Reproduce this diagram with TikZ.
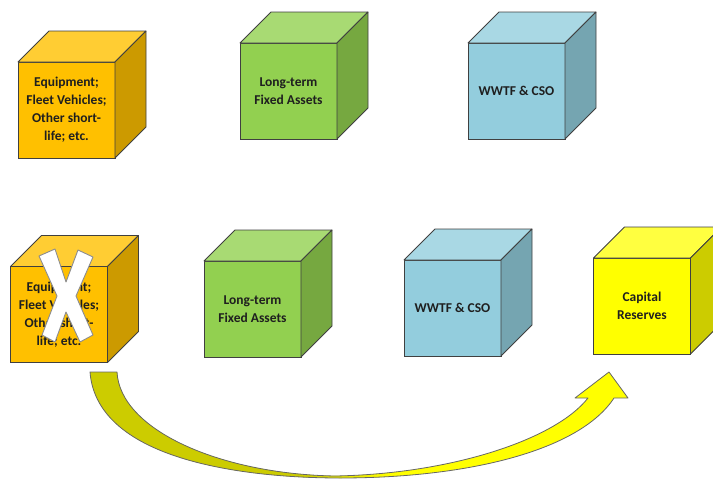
\documentclass[tikz,border=0pt]{standalone}
\usepackage{fontspec}
\setmainfont{Carlito}
\usetikzlibrary{calc}

% face colours of the boxes
\definecolor{edge}{HTML}{404040}
\definecolor{txt}{HTML}{1F1F1F}
\definecolor{orfront}{HTML}{FFC000}
\definecolor{ortop}{HTML}{FFCD33}
\definecolor{orside}{HTML}{CC9A00}
\definecolor{grfront}{HTML}{92D050}
\definecolor{grtop}{HTML}{A8DA73}
\definecolor{grside}{HTML}{76A840}
\definecolor{blfront}{HTML}{93CDDD}
\definecolor{bltop}{HTML}{A9D8E4}
\definecolor{blside}{HTML}{75A5B1}
\definecolor{yefront}{HTML}{FFFF00}
\definecolor{yetop}{HTML}{FFFF40}
\definecolor{yeside}{HTML}{CCCC00}
\definecolor{arrowdark}{HTML}{CCCC00}
\definecolor{arrowlight}{HTML}{FFFF00}

\tikzset{
  cubefront/.style={draw=edge, line width=0.8pt, minimum width=97pt,
    minimum height=96pt, inner sep=0pt, outer sep=0pt, align=center,
    text=txt, font=\bfseries\fontsize{13.5}{18}\selectfont},
  cubeface/.style={draw=edge, line width=0.8pt, line join=round},
  crossmark/.style={fill=white, draw=gray!90, line width=0.9pt, line join=round},
  arrowline/.style={draw=black!60, line width=0.8pt, line join=round}
}

% a box: front face is a named node, top and side faces hang off its corners
% #1 name, #2 centre of front face, #3 colour prefix, #4 label
\newcommand\drawbox[4]{%
  \node[cubefront, fill=#3front] (#1) at (#2) {#4};
  \filldraw[cubeface, fill=#3top] (#1.north west) -- ++(31,-31) -- ++(97,0)
     -- (#1.north east) -- cycle;
  \filldraw[cubeface, fill=#3side] (#1.north east) -- ++(31,-31) -- ++(0,96)
     -- (#1.south east) -- cycle;
}

\begin{document}
\begin{tikzpicture}[x=1pt, y=-1pt]
\useasboundingbox (0,0) rectangle (713,479);
\clip (0,0) rectangle (713,479);

% upper row
\drawbox{equipA}{66.5,110}{or}{Equipment;\\Fleet Vehicles;\\Other short-\\life; etc.}
\drawbox{fixedA}{288.5,91}{gr}{Long-term\\Fixed Assets}
\drawbox{wwtfA}{516.5,91}{bl}{WWTF \& CSO}

% lower row
\drawbox{equipB}{59,314.5}{or}{Equipment;\\Fleet Vehicles;\\Other short-\\life; etc.}
\drawbox{fixedB}{252.5,309}{gr}{Long-term\\Fixed Assets}
\drawbox{wwtfB}{452.5,308}{bl}{WWTF \& CSO}
\drawbox{reserve}{642,306}{ye}{Capital\\Reserves}

% the cross laid over the short-life box
\filldraw[crossmark] (39,256) -- (55,249) -- (66,282) -- (78,250) -- (93,257)
  -- (76,296) -- (93,335) -- (80,342) -- (66,312) -- (55,342) -- (42,335)
  -- (57,296) -- cycle;

% curved arrow running from the short-life box to the reserves
\def\arrowpath{(90,372) .. controls (97,462) and (250,478) .. (340,478)
  .. controls (470,478) and (580,450) .. (614,398) -- (628,398) -- (609,372)
  -- (575,398) -- (588,398) .. controls (555,440) and (450,474) .. (335,476)
  .. controls (220,474) and (120,430) .. (117,372) -- cycle}
\begin{scope}
  \clip \arrowpath;
  \fill[arrowlight] (80,360) rectangle (640,479);
  \fill[arrowdark] (80,360) rectangle (300,479);
  \shade[left color=arrowdark, right color=arrowlight] (299,360) rectangle (390,479);
\end{scope}
\draw[arrowline] \arrowpath;
\end{tikzpicture}
\end{document}
